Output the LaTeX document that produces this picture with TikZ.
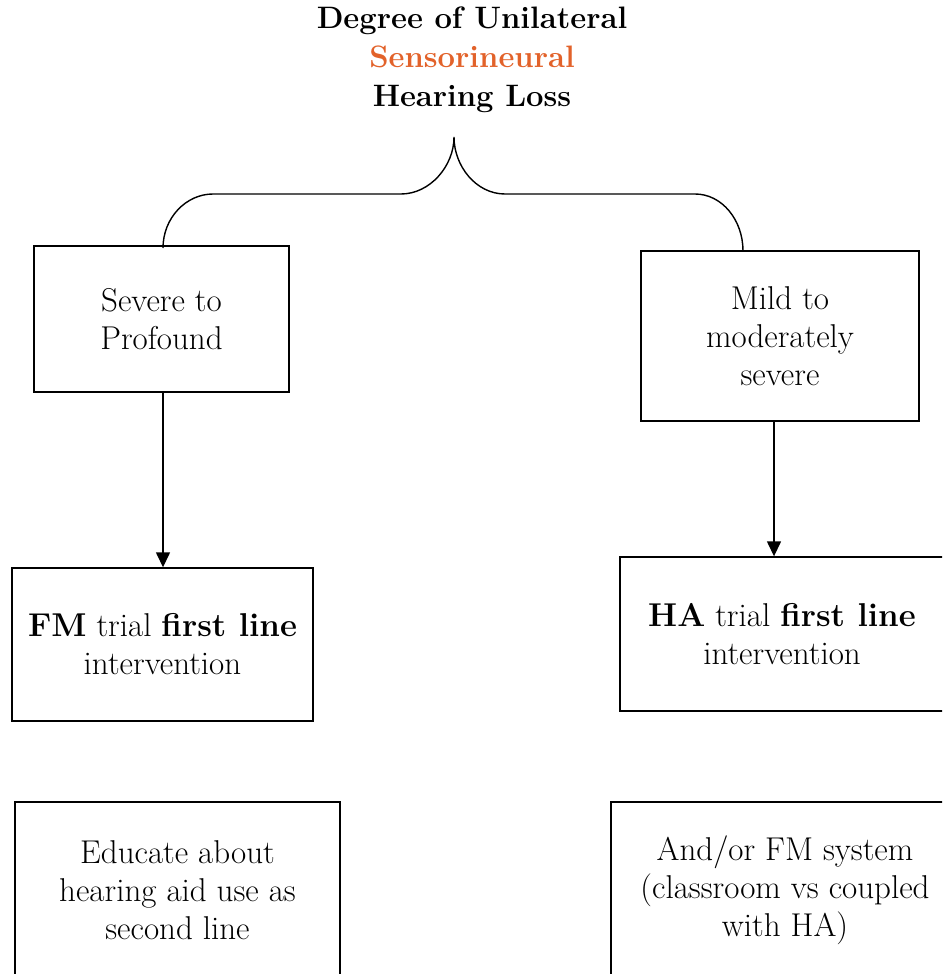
\documentclass[tikz,border=0pt]{standalone}
\usetikzlibrary{arrows.meta}
\definecolor{orng}{HTML}{E2622A}
\begin{document}
\begin{tikzpicture}[x=1pt,y=-1pt,
  box/.style={draw=black,line width=1.4pt,rectangle,inner sep=0pt,align=center,
    font=\fontsize{33}{38}\selectfont},
  conn/.style={line width=1.4pt,-{Triangle[width=14pt,length=15pt]}},
  bracepath/.style={line width=1.4pt},
  titletext/.style={align=center,inner sep=0pt,font=\fontsize{31}{39}\selectfont\bfseries}]
\useasboundingbox (0,0) rectangle (942,974);
\clip (0,0) rectangle (942,974);

\node[titletext] (title) at (472,60) {Degree of Unilateral\\\textcolor{orng}{Sensorineural}\\Hearing Loss};

\node[box,minimum width=255pt,minimum height=146pt] (sev) at (161.5,319) {Severe to\\Profound};
\node[box,minimum width=278pt,minimum height=170pt] (mild) at (780,336) {Mild to\\moderately\\severe};
\node[box,minimum width=301pt,minimum height=153pt] (fm) at (162.5,644.5) {\textbf{FM} trial \textbf{first line}\\intervention};
\node[box,minimum width=324pt,minimum height=154pt] (ha) at (782,634) {\textbf{HA} trial \textbf{first line}\\intervention};
\node[box,minimum width=325pt,minimum height=176pt] (edu) at (177.5,890) {Educate about\\hearing aid use as\\second line};
\node[box,minimum width=348pt,minimum height=176pt] (andor) at (785,890) {And/or FM system\\(classroom vs coupled\\with HA)};

\coordinate (tip) at (454,137);
\coordinate (bl) at (163,248);
\coordinate (br) at (743,251);
\draw[bracepath] (bl) .. controls (163,218) and (186,194) .. (213,194)
  -- (401,194) .. controls (430,194) and (454,166) .. (tip)
  .. controls (454,166) and (476,194) .. (505,194)
  -- (695,194) .. controls (722,194) and (743,220) .. (br);

\draw[conn] (sev.south -| 163,0) -- (fm.north -| 163,0);
\draw[conn] (mild.south -| 774,0) -- (ha.north -| 774,0);
\end{tikzpicture}
\end{document}
